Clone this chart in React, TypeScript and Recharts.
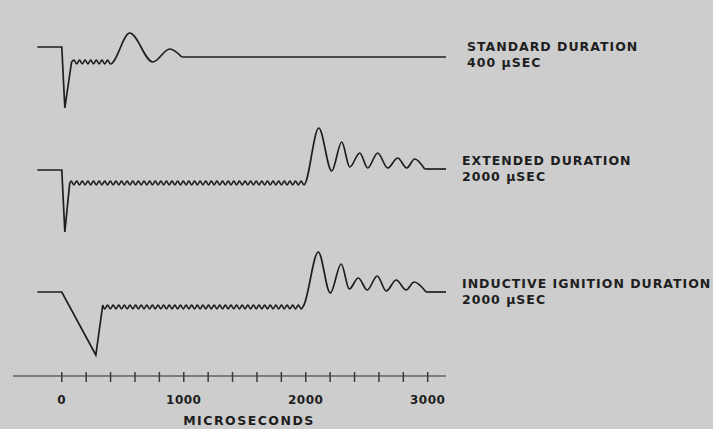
import React from 'react';
import { LineChart, Line, XAxis, YAxis } from 'recharts';

// time axis, microseconds
const xTicks = [0, 200, 400, 600, 800, 1000, 1200, 1400, 1600, 1800, 2000, 2200, 2400, 2600, 2800, 3000];
const xLabels = [0, 1000, 2000, 3000];

// shared sample times for the small ripple during the spark
const rippleTimes = [
  76, 99, 122, 145, 168, 191, 214, 237, 260, 283, 306, 329,
  352, 375, 398, 421, 444, 467, 490, 513, 536, 559, 582, 605,
  628, 651, 674, 697, 720, 743, 766, 789, 812, 835, 858, 881,
  904, 927, 950, 973, 996, 1019, 1042, 1065, 1088, 1111, 1134, 1157,
  1180, 1203, 1226, 1249, 1272, 1295, 1318, 1341, 1364, 1387, 1410, 1433,
  1456, 1479, 1502, 1525, 1548, 1571, 1594, 1617, 1640, 1663, 1686, 1709,
  1732, 1755, 1778, 1801, 1824, 1847, 1870, 1893, 1916, 1939, 1962, 1985,
];

// STANDARD DURATION 400 uSEC
const stdLead = [[-200, 329], [0, 329], [25, 268], [80, 314]];
const stdRipple = [316, 312, 316, 312, 316, 312, 316, 312, 316, 312, 316, 312, 316, 312];
const stdRing = [[557, 343], [746, 314], [885, 327], [984, 319]];
const stdTail = [[984, 319], [3150, 319]];

// EXTENDED DURATION 2000 uSEC
const extLead = [[-200, 206], [0, 206], [25, 144], [65, 193]];
const extRipple = [
  195, 191, 195, 191, 195, 191, 195, 191, 195, 191, 195, 191,
  195, 191, 195, 191, 195, 191, 195, 191, 195, 191, 195, 191,
  195, 191, 195, 191, 195, 191, 195, 191, 195, 191, 195, 191,
  195, 191, 195, 191, 195, 191, 195, 191, 195, 191, 195, 191,
  195, 191, 195, 191, 195, 191, 195, 191, 195, 191, 195, 191,
  195, 191, 195, 191, 195, 191, 195, 191, 195, 191, 195, 191,
  195, 191, 195, 191, 195, 191, 195, 191, 195, 191, 195, 191,
];
const extRing = [
  [2107, 248], [2213, 205], [2295, 234], [2361, 209], [2443, 223], [2508, 208],
  [2590, 223], [2672, 208], [2754, 218], [2828, 208], [2893, 217], [2975, 207],
];
const extTail = [[2975, 207], [3150, 207]];

// INDUCTIVE IGNITION DURATION 2000 uSEC
const indLead = [[-200, 84], [0, 84], [279, 21], [336, 71]];
const indRipple = [
  67, 71, 67, 71, 67, 71, 67, 71, 67, 71, 67, 71,
  67, 71, 67, 71, 67, 71, 67, 71, 67, 71, 67, 71,
  67, 71, 67, 71, 67, 71, 67, 71, 67, 71, 67, 71,
  67, 71, 67, 71, 67, 71, 67, 71, 67, 71, 67, 71,
  67, 71, 67, 71, 67, 71, 67, 71, 67, 71, 67, 71,
  67, 71, 67, 71, 67, 71, 67, 71, 67, 71, 67, 71,
];
const indRing = [
  [2103, 124], [2201, 83], [2291, 112], [2357, 87], [2431, 98], [2504, 86],
  [2586, 100], [2660, 85], [2742, 96], [2823, 86], [2889, 94], [2987, 84],
];
const indTail = [[2987, 84], [3150, 84]];

const pts = (pairs: number[][]) => pairs.map(([t, v]) => ({ t, v }));
const zip = (ts: number[], vs: number[]) => vs.map((v, i) => ({ t: ts[i], v }));

const stdWave = [...pts([stdLead[3]]), ...zip(rippleTimes.slice(1), stdRipple), ...pts(stdRing)];
const extWave = [...pts([extLead[3]]), ...zip(rippleTimes, extRipple), ...pts(extRing)];
const indWave = [...pts([indLead[3]]), ...zip(rippleTimes.slice(12), indRipple), ...pts(indRing)];

const INK = '#1e1e1e';
const AXIS = '#7c7c7c';
const FONT = '"DejaVu Sans", sans-serif';

const Tick = ({ x, y, payload }: any) => (
  <g>
    <line x1={x} x2={x} y1={y - 4} y2={y + 6} stroke="#3a3a3a" strokeWidth={1.5} />
    {xLabels.includes(payload.value) && (
      <text x={x} y={y + 28} textAnchor="middle" fontFamily={FONT} fontWeight="bold" fontSize={12} letterSpacing={0.5} fill={INK}>
        {payload.value}
      </text>
    )}
  </g>
);

const seg = (key: string, data: any[], type: 'linear' | 'monotone') => (
  <Line
    key={key}
    data={data}
    dataKey="v"
    type={type}
    stroke={INK}
    strokeWidth={1.7}
    dot={false}
    activeDot={false}
    isAnimationActive={false}
  />
);

const notes = [
  { x: 467, y: 51, lines: ['STANDARD DURATION', '400 µSEC'] },
  { x: 462, y: 165, lines: ['EXTENDED DURATION', '2000 µSEC'] },
  { x: 462, y: 288, lines: ['INDUCTIVE IGNITION DURATION', '2000 µSEC'] },
];

export default function App() {
  return (
    <div style={{ position: 'fixed', left: 0, top: 0, width: 713, height: 429, background: '#cdcdcd', overflow: 'hidden' }}>
      <LineChart width={713} height={429} margin={{ top: 13, right: 267, bottom: 23, left: 13 }}>
        <XAxis
          type="number"
          dataKey="t"
          domain={[-400, 3150]}
          ticks={xTicks}
          interval={0}
          allowDataOverflow
          height={30}
          tickSize={0}
          tickMargin={0}
          tickLine={false}
          tick={<Tick />}
          axisLine={{ stroke: AXIS, strokeWidth: 2 }}
        />
        <YAxis
          type="number"
          domain={[0, 363]}
          allowDataOverflow
          width={0}
          tick={false}
          tickLine={false}
          axisLine={{ stroke: AXIS, strokeWidth: 2 }}
        />
        {seg('stdLead', pts(stdLead), 'linear')}
        {seg('stdWave', stdWave, 'monotone')}
        {seg('stdTail', pts(stdTail), 'linear')}
        {seg('extLead', pts(extLead), 'linear')}
        {seg('extWave', extWave, 'monotone')}
        {seg('extTail', pts(extTail), 'linear')}
        {seg('indLead', pts(indLead), 'linear')}
        {seg('indWave', indWave, 'monotone')}
        {seg('indTail', pts(indTail), 'linear')}
      </LineChart>
      <svg width={713} height={429} style={{ position: 'absolute', left: 0, top: 0, pointerEvents: 'none' }}>
        {notes.map((n) => (
          <text key={n.lines[0]} x={n.x} y={n.y} fontFamily={FONT} fontWeight="bold" fontSize={12.5} letterSpacing={1} fill={INK}>
            <tspan x={n.x}>{n.lines[0]}</tspan>
            <tspan x={n.x} dy={16}>{n.lines[1]}</tspan>
          </text>
        ))}
        <text x={249} y={425} textAnchor="middle" fontFamily={FONT} fontWeight="bold" fontSize={12.5} letterSpacing={1.5} fill={INK}>
          MICROSECONDS
        </text>
      </svg>
    </div>
  );
}
